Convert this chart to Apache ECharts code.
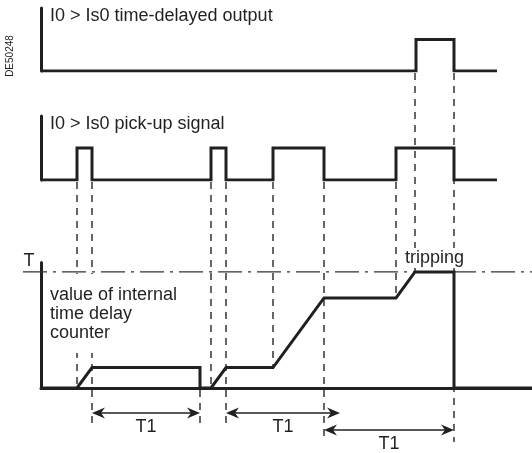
<!DOCTYPE html>
<html><head><meta charset="utf-8">
<script src="https://cdn.jsdelivr.net/npm/echarts@6/dist/echarts.min.js"></script>
<style>html,body{margin:0;padding:0;background:#fff}#c{width:532px;height:453px}</style>
</head><body><div id="c"></div>
<script>
// ---- data (time units along the shared time axis) ----
const timeMax = 491;
const outputTimes   = [0, 375, 413, 456];
const outputValues  = [0, 1, 0, 0];
const pickupTimes   = [0, 36, 51, 170, 185, 232, 283, 355, 413, 456];
const pickupValues  = [0, 1, 0, 1, 0, 1, 0, 1, 0, 0];
const counterTimes  = [0, 36, 51, 159, 159, 170, 185, 232, 283, 355, 374, 413, 413, 491];
const counterValues = [0, 0, 15, 15, 0, 0, 15, 15, 66, 66, 85, 85, 0, 0];
const thresholdT = 85;
const t1Starts = [51, 185, 283];
const t1Ends   = [159, 299, 413];
const t1Label = 'T1';
const titleOutput = 'I0 > Is0 time-delayed output';
const titlePickup = 'I0 > Is0 pick-up signal';
const counterLabel = ['value of internal', 'time delay', 'counter'];
const trippingLabel = 'tripping';
const tLabel = 'T';
const refLabel = 'DE50248';
// guide lines: time, start lane, end lane
const guideTimes = [36, 51, 159, 170, 185, 232, 283, 355, 374, 413];
const guideFrom  = ['pick', 'pick', 'cbase', 'pick', 'pick', 'pick', 'pick', 'pick', 'out', 'out'];
const guideTo    = ['cbase', 'row1', 'row1b', 'cbase', 'row1', 'c15', 'row2', 'c66', 'cT', 'row2'];

const INK = '#231f20';
const FONT = '"Liberation Sans", Arial, Helvetica, sans-serif';

const chart = echarts.init(document.getElementById('c'), null, {renderer: 'canvas'});
const zip = (a, b) => a.map((t, i) => [t, b[i]]);
const lineStyle = {color: INK, width: 3, join: 'miter', cap: 'butt'};
const hiddenX = (gi, showLine) => ({
  type: 'value', gridIndex: gi, min: 0, max: timeMax, show: true,
  axisLine: {show: !!showLine, onZero: false, lineStyle: {color: INK, width: 3}},
  axisTick: {show: false}, axisLabel: {show: false}, splitLine: {show: false}
});
const yAx = (gi, max) => ({
  type: 'value', gridIndex: gi, min: 0, max: max,
  axisLine: {show: true, lineStyle: {color: INK, width: 3}},
  axisTick: {show: false}, axisLabel: {show: false}, splitLine: {show: false}
});

chart.setOption({
  animation: false,
  backgroundColor: '#fff',
  grid: [
    {left: 41, right: 0, top: 8, height: 63},
    {left: 41, right: 0, top: 116, height: 64},
    {left: 41, right: 0, top: 262.4, height: 125.6}
  ],
  xAxis: [hiddenX(0, false), hiddenX(1, false), hiddenX(2, true)],
  yAxis: [yAx(0, 2), yAx(1, 2), yAx(2, 92)],
  series: [
    {type: 'line', xAxisIndex: 0, yAxisIndex: 0, step: 'end', symbol: 'none',
     data: zip(outputTimes, outputValues), lineStyle, z: 5},
    {type: 'line', xAxisIndex: 1, yAxisIndex: 1, step: 'end', symbol: 'none',
     data: zip(pickupTimes, pickupValues), lineStyle, z: 5},
    {type: 'line', xAxisIndex: 2, yAxisIndex: 2, symbol: 'none',
     data: zip(counterTimes, counterValues), lineStyle, z: 5}
  ]
});

const px = (gi, t, v) => chart.convertToPixel({gridIndex: gi}, [t, v]);
const X = t => px(2, t, 0)[0];
const outBase = px(0, 0, 0)[1];
const pickBase = px(1, 0, 0)[1];
const cY = v => px(2, 0, v)[1];
const cBase = cY(0);
const outTop = px(0, 0, 2)[1];
const pickTop = px(1, 0, 2)[1];
const lanes = {
  out: outBase + 2, pick: pickBase + 2, cbase: cBase,
  row1: cBase + 37, row1b: cBase + 35, row2: cBase + 54,
  c15: cY(15), c66: cY(66), cT: cY(thresholdT)
};

const G = [];
const dash = {stroke: '#333', lineWidth: 1.5, lineDash: [7, 6]};
guideTimes.forEach((t, i) => {
  let y1 = lanes[guideFrom[i]];
  if (guideFrom[i] === 'cbase') y1 = cBase + 2;
  const y2 = lanes[guideTo[i]];
  G.push({type: 'line', silent: true, z: 1,
    shape: {x1: X(t), y1: y1, x2: X(t), y2: y2}, style: dash});
});
// threshold T dash-dot line
G.push({type: 'line', silent: true, z: 1,
  shape: {x1: 23, y1: cY(thresholdT), x2: 532, y2: cY(thresholdT)},
  style: {stroke: '#333', lineWidth: 1.2, lineDash: [24, 6, 3, 6]}});

// white box behind counter label
G.push({type: 'rect', silent: true, z: 2,
  shape: {x: 45, y: cY(thresholdT) + 2, width: 140, height: 79},
  style: {fill: '#fff'}});
const txt = (x, y, text, size, align, vAlign, extra) => Object.assign({
  type: 'text', silent: true, z: 3, x: x, y: y,
  style: {text: text, fill: INK, font: size + 'px ' + FONT,
    textAlign: align, textVerticalAlign: vAlign, align: align, verticalAlign: vAlign}
}, extra || {});
G.push(txt(50, outTop + 8, titleOutput, 18, 'left', 'middle'));
G.push(txt(50, pickTop + 8, titlePickup, 18, 'left', 'middle'));
counterLabel.forEach((s, i) => G.push(txt(50, cY(thresholdT) + 23 + 19 * i, s, 18, 'left', 'middle')));
G.push({type: 'rect', silent: true, z: 2,
  shape: {x: X(364) , y: cY(thresholdT) - 24, width: 60, height: 20}, style: {fill: '#fff'}});
G.push(txt((X(374) + X(413)) / 2, cY(thresholdT) - 14, trippingLabel, 18, 'center', 'middle'));
G.push(txt(29, cY(thresholdT) - 11, tLabel, 18, 'center', 'middle'));
G.push(txt(10, 56, refLabel, 10, 'center', 'middle', {rotation: Math.PI / 2}));

// T1 double arrows
const arrowRows = [cBase + 25, cBase + 25, cBase + 42];
t1Starts.forEach((t0, i) => {
  const xa = X(t0), xb = X(t1Ends[i]), y = arrowRows[i];
  G.push({type: 'line', silent: true, z: 3, shape: {x1: xa + 4, y1: y, x2: xb - 4, y2: y},
    style: {stroke: INK, lineWidth: 1.3}});
  G.push({type: 'polygon', silent: true, z: 3,
    shape: {points: [[xa, y], [xa + 13, y - 5.5], [xa + 9, y], [xa + 13, y + 5.5]]}, style: {fill: INK}});
  G.push({type: 'polygon', silent: true, z: 3,
    shape: {points: [[xb, y], [xb - 13, y - 5.5], [xb - 9, y], [xb - 13, y + 5.5]]}, style: {fill: INK}});
  G.push(txt((xa + xb) / 2, y + 14, t1Label, 18, 'center', 'middle'));
});

chart.setOption({graphic: {elements: G}});
</script>
</body></html>
